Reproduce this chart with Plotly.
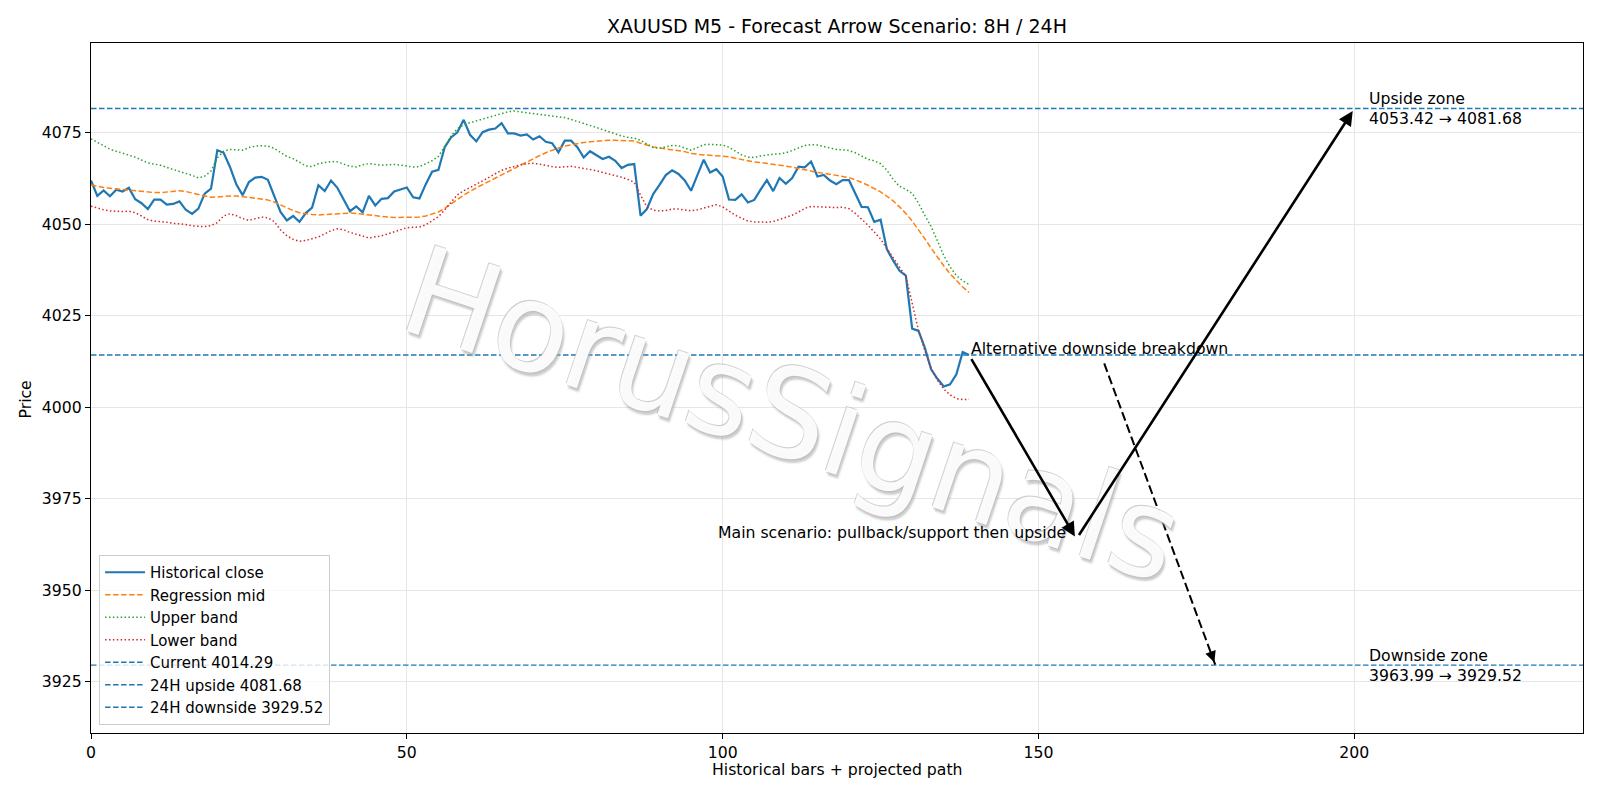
import plotly.graph_objects as go

# ---------------- data ----------------
close = [4062.0, 4057.8, 4059.3, 4057.7, 4059.5, 4059.0, 4060.0, 4056.9, 4055.8, 4054.2,
         4056.8, 4056.8, 4055.4, 4055.6, 4056.3, 4054.0, 4052.9, 4054.3, 4058.4, 4059.8,
         4070.3, 4069.6, 4065.7, 4061.0, 4058.0, 4061.6, 4062.8, 4063.0, 4062.2, 4058.0,
         4053.4, 4051.1, 4052.3, 4050.7, 4053.1, 4054.6, 4060.7, 4059.1, 4062.0, 4060.0,
         4056.6, 4053.6, 4054.9, 4053.3, 4057.8, 4055.2, 4057.0, 4057.2, 4059.0, 4059.6,
         4060.1, 4057.4, 4057.1, 4061.0, 4064.4, 4064.9, 4071.1, 4073.8, 4075.2, 4078.6,
         4074.5, 4072.7, 4075.2, 4075.9, 4076.2, 4077.7, 4074.9, 4074.9, 4074.3, 4074.6,
         4073.2, 4074.1, 4072.6, 4072.2, 4069.7, 4072.9, 4072.9, 4071.1, 4068.3, 4070.0,
         4069.0, 4067.9, 4068.5, 4067.4, 4065.4, 4066.3, 4066.5, 4052.4, 4054.2, 4058.3,
         4060.8, 4063.5, 4064.8, 4063.8, 4062.0, 4059.2, 4063.5, 4067.7, 4064.2, 4065.1,
         4063.1, 4056.8, 4056.7, 4058.2, 4056.0, 4056.7, 4059.5, 4062.1, 4059.1, 4062.7,
         4061.1, 4062.7, 4065.8, 4065.6, 4067.2, 4063.1, 4063.5, 4062.0, 4061.0, 4062.1,
         4062.1, 4058.3, 4054.8, 4054.7, 4050.7, 4051.3, 4043.2, 4040.1, 4037.3, 4036.0,
         4021.5, 4020.9, 4016.3, 4010.4, 4007.8, 4005.7, 4006.3, 4009.0, 4015.1, 4014.29]

reg_mid = [4060.8, 4060.4, 4060.1, 4059.9, 4059.7, 4059.5, 4059.3, 4059.1, 4058.9, 4058.8,
           4058.7, 4058.7, 4058.8, 4059.0, 4059.2, 4059.0, 4058.6, 4058.1, 4057.6, 4057.4,
           4057.5, 4057.7, 4057.8, 4057.8, 4057.6, 4057.4, 4057.3, 4057.1, 4056.7, 4056.1,
           4055.3, 4054.5, 4053.8, 4053.2, 4052.9, 4052.7, 4052.6, 4052.7, 4052.8, 4053.0,
           4053.1, 4053.1, 4053.0, 4052.8, 4052.5, 4052.2, 4052.1, 4052.0, 4051.9, 4051.9,
           4051.9, 4051.9, 4052.0, 4052.3, 4052.8, 4053.4, 4054.4, 4055.5, 4056.8, 4058.0,
           4059.1, 4060.0, 4060.9, 4061.8, 4062.7, 4063.6, 4064.5, 4065.4, 4066.3, 4067.2,
           4068.0, 4068.8, 4069.6, 4070.3, 4070.9, 4071.4, 4071.8, 4072.1, 4072.4, 4072.6,
           4072.8, 4072.9, 4073.0, 4073.0, 4073.0, 4073.0, 4072.8, 4072.2, 4071.6, 4071.2,
           4070.9, 4070.7, 4070.5, 4070.3, 4069.9, 4069.4, 4069.1, 4069.0, 4068.9, 4068.8,
           4068.8, 4068.5, 4068.1, 4067.7, 4067.4, 4067.1, 4066.9, 4066.7, 4066.5, 4066.2,
           4066.0, 4065.7, 4065.3, 4064.9, 4064.5, 4064.2, 4064.0, 4063.7, 4063.4, 4063.2,
           4062.8, 4062.2, 4061.5, 4060.7, 4059.8, 4058.9, 4057.7, 4056.4, 4054.8, 4053.0,
           4050.9, 4048.6, 4046.1, 4043.5, 4041.0, 4038.7, 4036.5, 4034.6, 4032.9, 4031.4]

upper_band = [4073.4, 4072.4, 4071.4, 4070.6, 4070.0, 4069.5, 4069.0, 4068.4, 4067.6, 4066.8,
              4066.5, 4066.2, 4065.6, 4065.1, 4064.6, 4064.1, 4063.4, 4062.7, 4063.2, 4064.6,
              4068.2, 4070.0, 4070.5, 4070.4, 4070.3, 4071.0, 4071.4, 4071.5, 4071.4, 4070.8,
              4069.6, 4068.6, 4068.0, 4067.0, 4066.0, 4065.8, 4066.6, 4066.9, 4067.2, 4067.1,
              4066.5, 4065.9, 4065.7, 4066.3, 4066.6, 4066.4, 4066.2, 4066.3, 4066.4, 4066.2,
              4065.9, 4065.7, 4065.8, 4066.5, 4067.4, 4068.6, 4071.5, 4074.2, 4076.2, 4077.2,
              4077.8, 4078.3, 4078.8, 4079.3, 4079.9, 4080.4, 4080.8, 4081.0, 4080.8, 4080.5,
              4080.3, 4080.1, 4079.9, 4079.8, 4079.6, 4079.2, 4078.7, 4078.2, 4077.6, 4077.0,
              4076.5, 4075.9, 4075.3, 4074.7, 4074.2, 4073.8, 4073.6, 4073.0, 4071.9, 4071.0,
              4070.8, 4071.2, 4071.6, 4071.5, 4070.9, 4070.3, 4071.0, 4071.8, 4071.9, 4071.9,
              4071.7, 4071.1, 4070.0, 4069.0, 4068.4, 4068.3, 4068.7, 4069.0, 4069.2, 4069.3,
              4069.6, 4070.2, 4071.0, 4071.6, 4071.8, 4071.7, 4071.3, 4070.8, 4070.5, 4070.4,
              4070.2, 4069.6, 4068.6, 4067.8, 4067.4, 4066.6, 4064.8, 4062.3, 4060.4, 4059.6,
              4058.5, 4055.8, 4052.5, 4049.4, 4045.5, 4041.5, 4038.4, 4036.0, 4034.6, 4033.6]

lower_band = [4055.0, 4054.4, 4054.0, 4053.7, 4053.5, 4053.5, 4053.6, 4053.2, 4052.3, 4051.3,
              4050.9, 4050.8, 4050.6, 4050.3, 4050.2, 4050.0, 4049.6, 4049.4, 4049.4, 4049.7,
              4050.5, 4052.3, 4052.9, 4052.4, 4051.6, 4051.1, 4051.6, 4052.0, 4051.8, 4050.8,
              4048.5, 4046.9, 4045.9, 4045.4, 4045.6, 4046.1, 4046.6, 4047.4, 4048.3, 4048.8,
              4048.5, 4047.8, 4047.2, 4046.8, 4046.3, 4046.5, 4046.9, 4047.4, 4047.9, 4048.6,
              4049.1, 4049.2, 4049.3, 4049.9, 4050.9, 4052.1, 4054.0, 4056.2, 4058.1, 4059.2,
              4060.2, 4061.0, 4061.9, 4062.8, 4063.8, 4064.8, 4065.4, 4065.9, 4066.3, 4066.6,
              4066.7, 4066.5, 4066.1, 4065.8, 4065.6, 4065.8, 4065.9, 4065.6, 4065.3, 4065.0,
              4064.7, 4064.2, 4063.8, 4063.4, 4062.9, 4062.3, 4061.5, 4058.0, 4054.8, 4053.9,
              4053.7, 4053.8, 4054.2, 4054.2, 4053.9, 4053.7, 4054.0, 4054.5, 4055.0, 4055.4,
              4054.8, 4053.6, 4052.5, 4051.7, 4050.9, 4050.7, 4050.6, 4050.6, 4050.8, 4051.3,
              4051.8, 4052.5, 4053.4, 4054.4, 4054.9, 4054.8, 4054.6, 4054.5, 4054.6, 4054.7,
              4054.3, 4053.0, 4051.5, 4049.8, 4047.9, 4046.0, 4043.4, 4040.8, 4038.2, 4035.8,
              4028.5, 4021.0, 4015.6, 4010.6, 4007.4, 4005.0, 4003.4, 4002.4, 4002.1, 4002.2]

bars = list(range(len(close)))

current_price = 4014.29
upside_24h = 4081.68
downside_24h = 3929.52
upside_zone = (4053.42, 4081.68)
downside_zone = (3963.99, 3929.52)

# projected scenario paths (bar, price)
main_path_x = [139, 156, 200]
main_path_y = [4014.29, 3963.99, 4081.68]
alt_path_x = [160.4, 178]
alt_path_y = [4012.0, 3929.52]
zone_label_x = 202
main_label_x = 155
alt_label_x = 139

x_range = [0, 236.2]
y_range = [3910.95, 4099.6]

# ---------------- style ----------------
FONT = "DejaVu Sans"
BLUE = "#1f77b4"
ORANGE = "#ff7f0e"
GREEN = "#2ca02c"
RED = "#d62728"
FS = 15.7

fig = go.Figure()
fig.add_trace(go.Scatter(x=bars, y=close, mode="lines", name="Historical close",
                         line=dict(color=BLUE, width=2.2)))
fig.add_trace(go.Scatter(x=bars, y=reg_mid, mode="lines", name="Regression mid",
                         line=dict(color=ORANGE, width=1.5, dash="5.5px,2.5px")))
fig.add_trace(go.Scatter(x=bars, y=upper_band, mode="lines", name="Upper band",
                         line=dict(color=GREEN, width=1.5, dash="1.5px,2.4px")))
fig.add_trace(go.Scatter(x=bars, y=lower_band, mode="lines", name="Lower band",
                         line=dict(color=RED, width=1.5, dash="1.5px,2.4px")))

hlines = [(current_price, f"Current {current_price:.2f}"),
          (upside_24h, f"24H upside {upside_24h:.2f}"),
          (downside_24h, f"24H downside {downside_24h:.2f}")]
for val, name in hlines:
    fig.add_shape(type="line", xref="x domain", x0=0, x1=1, yref="y", y0=val, y1=val,
                  line=dict(color=BLUE, width=1.4, dash="5.5px,2.5px"), layer="above")
    fig.add_trace(go.Scatter(x=[None], y=[None], mode="lines", name=name,
                             line=dict(color=BLUE, width=1.4, dash="5.5px,2.5px")))

annotations = []
# watermark (drawn first so other annotations sit above it)
annotations.append(dict(x=0.4705, y=0.461, xref="paper", yref="paper", text="HorusSignals",
                        showarrow=False, textangle=18.5, xanchor="center", yanchor="middle",
                        font=dict(family=FONT, size=124, color="rgba(255,255,255,0.93)",
                                  shadow="-1px -1px 0px rgba(185,185,185,0.7), "
                                         "1px 1px 0px rgba(185,185,185,0.6), "
                                         "3px 3px 2px rgba(170,170,170,0.65)")))
# main scenario arrows
for k in range(len(main_path_x) - 1):
    annotations.append(dict(x=main_path_x[k + 1], y=main_path_y[k + 1], xref="x", yref="y",
                            ax=main_path_x[k], ay=main_path_y[k], axref="x", ayref="y",
                            text="", showarrow=True, arrowhead=2, arrowsize=1.1,
                            arrowwidth=2.6, arrowcolor="black", standoff=3, startstandoff=3))
# alternative dashed arrow
fig.add_shape(type="line", xref="x", yref="y", x0=alt_path_x[0], y0=alt_path_y[0],
              x1=alt_path_x[1], y1=alt_path_y[1],
              line=dict(color="black", width=2.0, dash="9px,4px"), layer="above")
fr = 0.04
annotations.append(dict(x=alt_path_x[1], y=alt_path_y[1], xref="x", yref="y",
                        ax=alt_path_x[1] - fr * (alt_path_x[1] - alt_path_x[0]),
                        ay=alt_path_y[1] - fr * (alt_path_y[1] - alt_path_y[0]),
                        axref="x", ayref="y", text="", showarrow=True, arrowhead=2,
                        arrowsize=1.1, arrowwidth=2.0, arrowcolor="black", standoff=3))

tfont = dict(family=FONT, size=FS, color="black")
annotations.append(dict(x=alt_label_x, y=current_price, xref="x", yref="y",
                        text="Alternative downside breakdown", showarrow=False,
                        xanchor="left", yanchor="bottom", yshift=-5, font=tfont))
annotations.append(dict(x=main_label_x, y=main_path_y[1], xref="x", yref="y",
                        text="Main scenario: pullback/support then upside", showarrow=False,
                        xanchor="right", yanchor="bottom", yshift=-5, xshift=-2, font=tfont))
annotations.append(dict(x=zone_label_x, y=upside_24h, xref="x", yref="y",
                        text=f"Upside zone<br>{upside_zone[0]:.2f} → {upside_zone[1]:.2f}",
                        showarrow=False, xanchor="left", yanchor="middle", align="left",
                        font=tfont))
annotations.append(dict(x=zone_label_x, y=downside_24h, xref="x", yref="y",
                        text=f"Downside zone<br>{downside_zone[0]:.2f} → {downside_zone[1]:.2f}",
                        showarrow=False, xanchor="left", yanchor="middle", align="left",
                        font=tfont))

# axis titles
annotations.append(dict(x=0.5, y=-0.0536, xref="paper", yref="paper",
                        text="Historical bars + projected path", showarrow=False,
                        xanchor="center", yanchor="middle", font=tfont))
annotations.append(dict(x=-0.0439, y=0.4826, xref="paper", yref="paper", text="Price",
                        showarrow=False, textangle=-90, xanchor="center", yanchor="middle",
                        font=tfont))

axis_common = dict(showline=True, linecolor="black", linewidth=1.1, mirror=True,
                   ticks="outside", ticklen=5, tickwidth=1.1, tickcolor="black",
                   showgrid=True, gridcolor="#e6e6e6", gridwidth=1.1, zeroline=False,
                   tickfont=dict(family=FONT, size=FS, color="black"))

fig.update_layout(
    width=1600, height=800,
    margin=dict(l=91, r=17, t=43, b=67),
    paper_bgcolor="white", plot_bgcolor="white",
    title=dict(text="XAUUSD M5 - Forecast Arrow Scenario: 8H / 24H", x=0.5, xref="paper",
               xanchor="center", y=1 - 26.5 / 800, yref="container", yanchor="middle",
               font=dict(family=FONT, size=19, color="black")),
    xaxis=dict(range=x_range, tickvals=[0, 50, 100, 150, 200], **axis_common),
    yaxis=dict(range=y_range, tickvals=[3925, 3950, 3975, 4000, 4025, 4050, 4075], **axis_common),
    legend=dict(x=0.0054, y=0.0116, xanchor="left", yanchor="bottom",
                bgcolor="rgba(255,255,255,0.8)", bordercolor="#cccccc", borderwidth=1,
                itemwidth=40,
                font=dict(family=FONT, size=15, color="black")),
    annotations=annotations,
    showlegend=True,
)

fig.write_html("out.html")
